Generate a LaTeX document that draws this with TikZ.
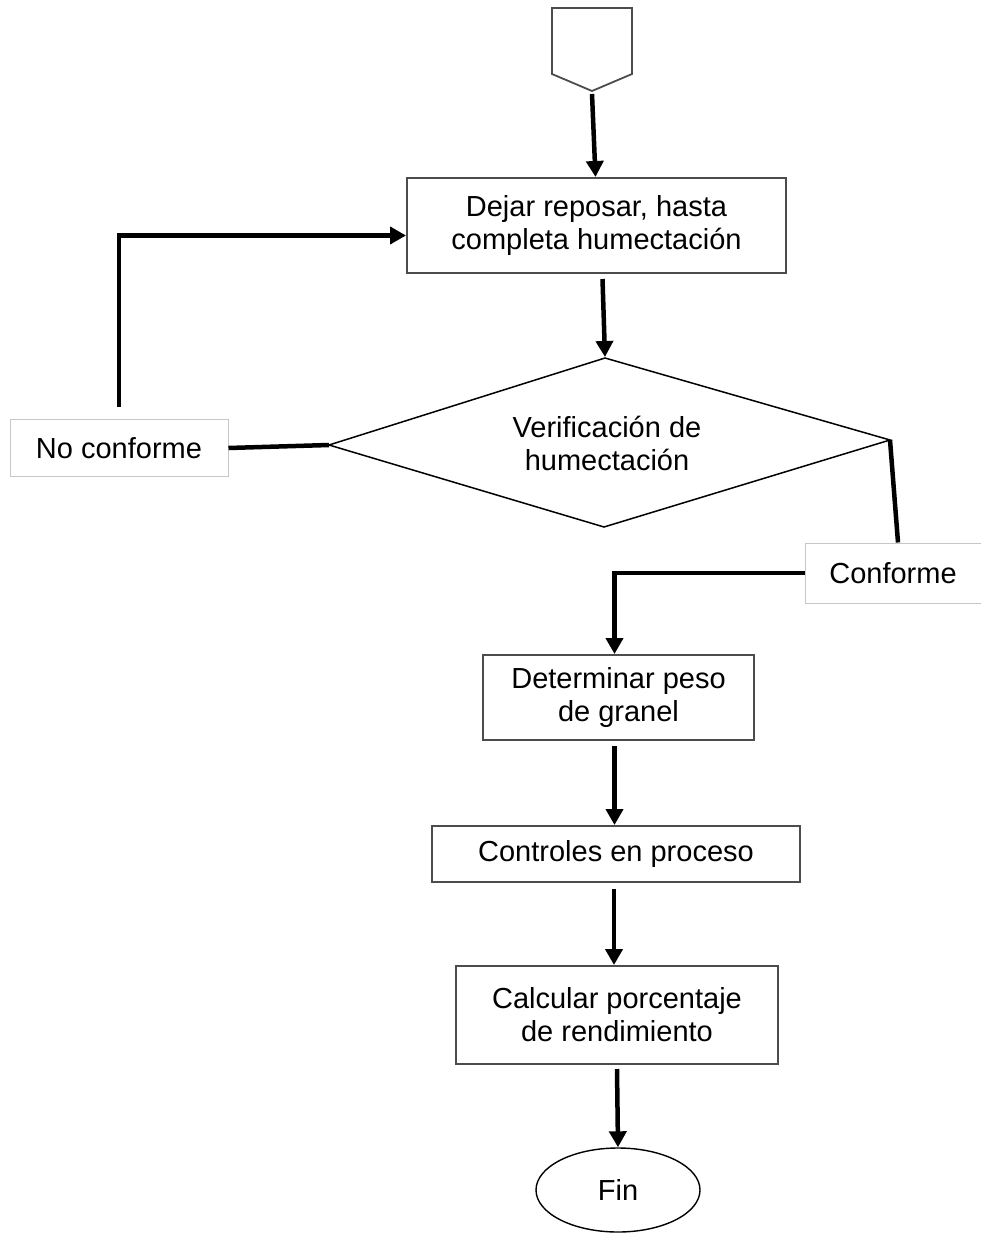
\documentclass[tikz,border=0pt]{standalone}
\usepackage{fontspec}
\setmainfont{Liberation Sans}
\usetikzlibrary{arrows.meta,shapes.geometric}
\tikzset{
  procbox/.style={draw=black!70, line width=2pt, align=center, inner sep=0pt},
  tagbox/.style={draw=black!22, line width=1pt, align=center, inner sep=0pt},
  flow/.style={line width=4.5pt, -{Triangle[length=16pt,width=17pt]}},
  link/.style={line width=4.5pt},
  txt/.style={font=\fontsize{29}{33}\selectfont}
}
\begin{document}
\begin{tikzpicture}[x=1pt,y=-1pt]
\useasboundingbox (0,0) rectangle (980,1233);

% off-page connector at the top
\coordinate (s1) at (552,8);
\coordinate (s2) at (632,8);
\coordinate (s3) at (632,74);
\coordinate (s4) at (592,91);
\coordinate (s5) at (552,74);
\draw[black!70, line width=1.8pt] (s1) -- (s2) -- (s3) -- (s4) -- (s5) -- cycle;

\node[procbox, txt, minimum width=379pt, minimum height=95pt] (b1) at (596.5,225.5)
  {Dejar reposar, hasta\\completa humectación};

% decision rhombus
\coordinate (dl) at (329,445);
\coordinate (dt) at (605,358);
\coordinate (dr) at (890,440);
\coordinate (db) at (604,527);
\draw[line width=1.5pt, line join=miter] (dl) -- (dt) -- (dr) -- (db) -- cycle;
\node[txt, align=center] (d) at (607,443) {Verificación de\\humectación};

\node[tagbox, txt, minimum width=218pt, minimum height=57pt] (nc) at (119,448) {No conforme};
\node[tagbox, txt, minimum width=176pt, minimum height=60pt] (cf) at (893,573) {Conforme};

\node[procbox, txt, minimum width=271pt, minimum height=85pt] (b2) at (618.5,697.5)
  {Determinar peso\\de granel};
\node[procbox, txt, minimum width=368pt, minimum height=56pt] (b3) at (616,854)
  {Controles en proceso};
\node[procbox, txt, minimum width=322pt, minimum height=98pt] (b4) at (617,1015)
  {Calcular porcentaje\\de rendimiento};
\node[draw, line width=1.4pt, ellipse, minimum width=164pt, minimum height=84pt,
  inner sep=0pt, txt] (fin) at (618,1190) {Fin};

% connectors
\draw[flow] ([yshift=-3pt]s4) -- ([xshift=-1pt]b1.north);
\draw[flow] ([xshift=6pt,yshift=-5pt]b1.south) -- ([yshift=1pt]dt);
\draw[link] (dl) -- (nc.east);
\draw[flow] ([yshift=12pt]nc.north) |- ([yshift=-10pt]b1.west);
\draw[link] (dr) -- ([xshift=5pt]cf.north);
\draw[flow] (cf.west) -| ([xshift=-4pt]b2.north);
\draw[flow] ([xshift=-4pt,yshift=-5pt]b2.south) -- ([xshift=-4pt]b2.south |- b3.north);
\draw[flow] ([xshift=-2pt,yshift=-6pt]b3.south) -- ([xshift=-2pt]b3.south |- b4.north);
\draw[flow] ([yshift=-4pt]b4.south) -- (fin.north);
\end{tikzpicture}
\end{document}
